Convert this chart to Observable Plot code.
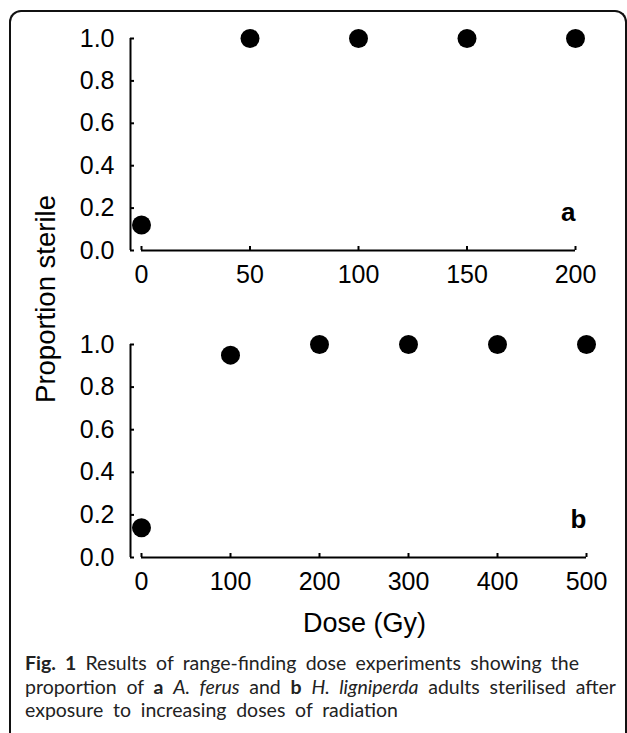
<!DOCTYPE html>
<html>
<head>
<meta charset="utf-8">
<script src="https://cdn.jsdelivr.net/npm/d3@7"></script>
<script src="https://cdn.jsdelivr.net/npm/@observablehq/plot@0.6"></script>
<style>
  html, body { margin: 0; padding: 0; background: #fff; }
  #wrap { position: relative; width: 627px; height: 733px; overflow: hidden; background: #fff; }
  #border { position: absolute; left: 9px; top: 10px; width: 614px; height: 780px;
    border: 2px solid #111; border-bottom: none; border-radius: 12px 12px 0 0; }
  .panel { position: absolute; left: 0; }
  #ylabel { position: absolute; left: 46px; top: 299px; transform: translate(-50%, -50%) rotate(-90deg);
    font-family: "Liberation Sans", Arial, sans-serif; font-size: 27.5px; white-space: nowrap; color: #000; }
  #caption { position: absolute; left: 25px; top: 651px; font-family: Lato, "Open Sans", sans-serif; font-size: 19.5px;
    line-height: 23.5px; color: #222; white-space: nowrap; }
  #caption div { height: 23.5px; }
  #caption i { font-style: italic; }
</style>
</head>
<body>
<div id="wrap">
  <div id="border"></div>
  <div id="pa" class="panel" style="top:0"></div>
  <div id="pb" class="panel" style="top:290px"></div>
  <div id="ylabel">Proportion sterile</div>
  <div id="caption">
    <div id="c1"><b>Fig. 1</b> Results of range-finding dose experiments showing the</div>
    <div id="c2">proportion of <b>a</b> <i>A. ferus</i> and <b>b</b> <i>H. ligniperda</i> adults sterilised after</div>
    <div id="c3">exposure to increasing doses of radiation</div>
  </div>
</div>
<script>
// Panel a: A. ferus
const doseA = [0, 50, 100, 150, 200];
const sterileA = [0.12, 1.0, 1.0, 1.0, 1.0];
const xTicksA = [0, 50, 100, 150, 200];
// Panel b: H. ligniperda
const doseB = [0, 100, 200, 300, 400, 500];
const sterileB = [0.14, 0.95, 1.0, 1.0, 1.0, 1.0];
const xTicksB = [0, 100, 200, 300, 400, 500];
const yTicks = [0, 0.2, 0.4, 0.6, 0.8, 1.0];
const xTitle = "Dose (Gy)";

const FONT = '"Liberation Sans", Arial, sans-serif';

function panel({dose, sterile, xTicks, xMax, letter, height, marginTop, marginBottom, marginRight, extra = []}) {
  const data = dose.map((d, i) => ({dose: d, p: sterile[i]}));
  return Plot.plot({
    width: 627,
    height,
    marginLeft: 130,
    marginRight,
    marginTop,
    marginBottom,
    style: {fontFamily: FONT, fontSize: "25px", color: "#000", background: "transparent", overflow: "visible"},
    x: {domain: [0, xMax], insetLeft: 11},
    y: {domain: [0, 1]},
    marks: [
      Plot.ruleX([0], {dx: -11, stroke: "#000", strokeWidth: 2}),
      Plot.ruleY([0], {insetLeft: 11, stroke: "#000", strokeWidth: 2}),
      Plot.axisY({ticks: yTicks, tickFormat: d3.format(".1f"), tickSize: -4, tickPadding: 20, strokeWidth: 2, fontSize: 25, fill: "#000", label: null}),
      Plot.axisX({ticks: xTicks, tickFormat: d => String(d), tickSize: -4, tickPadding: 19, strokeWidth: 2, fontSize: 25, fill: "#000", label: null}),
      Plot.dot(data, {x: "dose", y: "p", r: 9.5, fill: "#000", stroke: null}),
      Plot.text([letter], {frameAnchor: "bottom-right", textAnchor: "end", lineAnchor: "bottom", dy: -30, fontWeight: "bold", fontSize: 26, fill: "#000"}),
      ...extra
    ]
  });
}

document.getElementById("pa").appendChild(panel({
  dose: doseA, sterile: sterileA, xTicks: xTicksA, xMax: 200, letter: "a",
  height: 290, marginTop: 38, marginBottom: 40, marginRight: 52
}));
document.getElementById("pb").appendChild(panel({
  dose: doseB, sterile: sterileB, xTicks: xTicksB, xMax: 500, letter: "b",
  height: 350, marginTop: 54, marginBottom: 83, marginRight: 41,
  extra: [Plot.text([xTitle], {frameAnchor: "bottom", dx: 6, dy: 74, lineAnchor: "bottom", fontSize: 27, fill: "#000"})]
}));

// widen word spacing of the two full caption lines so they span the reference widths
const captionTargets = [["c1", 554], ["c2", 591]];
for (const [id, target] of captionTargets) {
  const el = document.getElementById(id);
  const r = document.createRange(); r.selectNodeContents(el);
  const w = r.getBoundingClientRect().width;
  const spaces = (el.textContent.trim().match(/ /g) || []).length;
  if (w < target && spaces) el.style.wordSpacing = ((target - w) / spaces).toFixed(2) + "px";
}
document.getElementById("c3").style.wordSpacing = document.getElementById("c2").style.wordSpacing;
</script>
</body>
</html>
